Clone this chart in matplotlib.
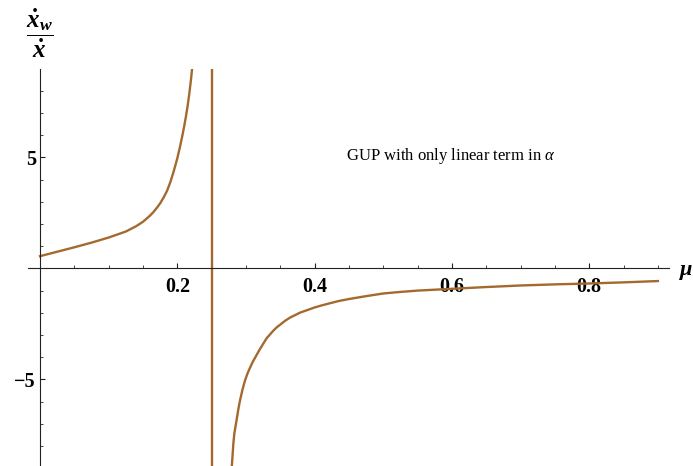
import matplotlib.pyplot as plt
from matplotlib.ticker import MultipleLocator, FixedLocator

plt.rcParams["font.family"] = ["Liberation Serif", "DejaVu Serif"]
plt.rcParams["mathtext.fontset"] = "custom"
plt.rcParams["mathtext.rm"] = "Liberation Serif"
plt.rcParams["mathtext.it"] = "Liberation Serif:italic"
plt.rcParams["mathtext.bf"] = "Liberation Serif:bold:italic"

# values
mu_left = [0.0, 0.025, 0.05, 0.075, 0.1, 0.125, 0.14, 0.15, 0.16, 0.165,
           0.17, 0.175, 0.18, 0.185, 0.19, 0.195, 0.2, 0.2035, 0.2075, 0.21,
           0.2125, 0.215, 0.2175, 0.22, 0.2225]
ratio_left = [0.55, 0.75, 0.95, 1.16, 1.39, 1.66, 1.9, 2.1, 2.37, 2.53,
              2.72, 2.93, 3.19, 3.49, 3.9, 4.4, 4.96, 5.42, 6.0, 6.4,
              6.83, 7.31, 7.88, 8.53, 9.3]

mu_right = [0.279, 0.2816, 0.283, 0.2865, 0.289, 0.2913, 0.295, 0.2986,
            0.302, 0.3058, 0.31, 0.3155, 0.32, 0.325, 0.33, 0.34, 0.345,
            0.35, 0.357, 0.364, 0.379, 0.39, 0.4, 0.41, 0.4223, 0.435,
            0.45, 0.475, 0.5, 0.525, 0.55, 0.575, 0.6, 0.65, 0.7, 0.75,
            0.8, 0.85, 0.9]
ratio_right = [-9.1, -7.9, -7.45, -6.8, -6.32, -5.95, -5.45, -5.05,
               -4.75, -4.48, -4.2, -3.9, -3.65, -3.4, -3.15, -2.8, -2.65,
               -2.53, -2.36, -2.22, -1.99, -1.87, -1.76, -1.67, -1.57, -1.47,
               -1.38, -1.25, -1.13, -1.06, -1.0, -0.96, -0.92, -0.84, -0.77, -0.72,
               -0.68, -0.63, -0.57]

pole_mu = 0.25

x_major = [0.2, 0.4, 0.6, 0.8]
y_major = [-5, 5]

curve_color = "#a4692f"

fig = plt.figure(figsize=(6.93, 4.66), dpi=100)
ax = fig.add_axes([28 / 693, 0, 641 / 693, 397 / 466])
ax.patch.set_visible(False)

for xs, ys in [(mu_left, ratio_left), (mu_right, ratio_right)]:
    ax.plot(xs, ys, color=curve_color, lw=1.7, solid_joinstyle="round")
ax.axvline(pole_mu, color=curve_color, lw=1.7)

ax.set_xlim(-0.0175, 0.9162)
ax.set_ylim(-8.9, 8.98)

for side in ["top", "right"]:
    ax.spines[side].set_visible(False)
ax.spines["left"].set_position(("data", 0))
ax.spines["bottom"].set_position(("data", 0))
for side in ["left", "bottom"]:
    ax.spines[side].set_linewidth(0.8)
    ax.spines[side].set_color("#222222")

ax.xaxis.set_major_locator(FixedLocator(x_major))
ax.xaxis.set_minor_locator(MultipleLocator(0.05))
ax.yaxis.set_major_locator(FixedLocator(y_major))
ax.yaxis.set_minor_locator(MultipleLocator(1))
ax.set_xticklabels([f"{v:.1f}" for v in x_major])
ax.set_yticklabels([f"{v:d}".replace("-", "\u2212") for v in y_major])

ax.tick_params(which="major", direction="in", length=3.5, width=0.8, color="#222222")
ax.tick_params(which="minor", direction="in", length=2, width=0.6, color="#222222")
ax.tick_params(axis="x", which="major", pad=6)
ax.tick_params(axis="y", which="major", pad=3)
for lab in ax.get_xticklabels() + ax.get_yticklabels():
    lab.set_fontsize(14.5)
    lab.set_fontweight("bold")

ax.text(0.446, 5.07, r"GUP with only linear term in $\alpha$", fontsize=12,
        ha="left", va="center")

fig.text(40 / 693, 1 - 33 / 466, r"$\dfrac{\mathbf{\dot{x}_w}}{\mathbf{\dot{x}}}$",
         fontsize=18, ha="center", va="center")
fig.text(686 / 693, 1 - 270 / 466, "\u03bc", fontsize=16, fontstyle="italic",
         fontweight="bold", ha="center", va="center")

fig.savefig("out.png", dpi=100)
